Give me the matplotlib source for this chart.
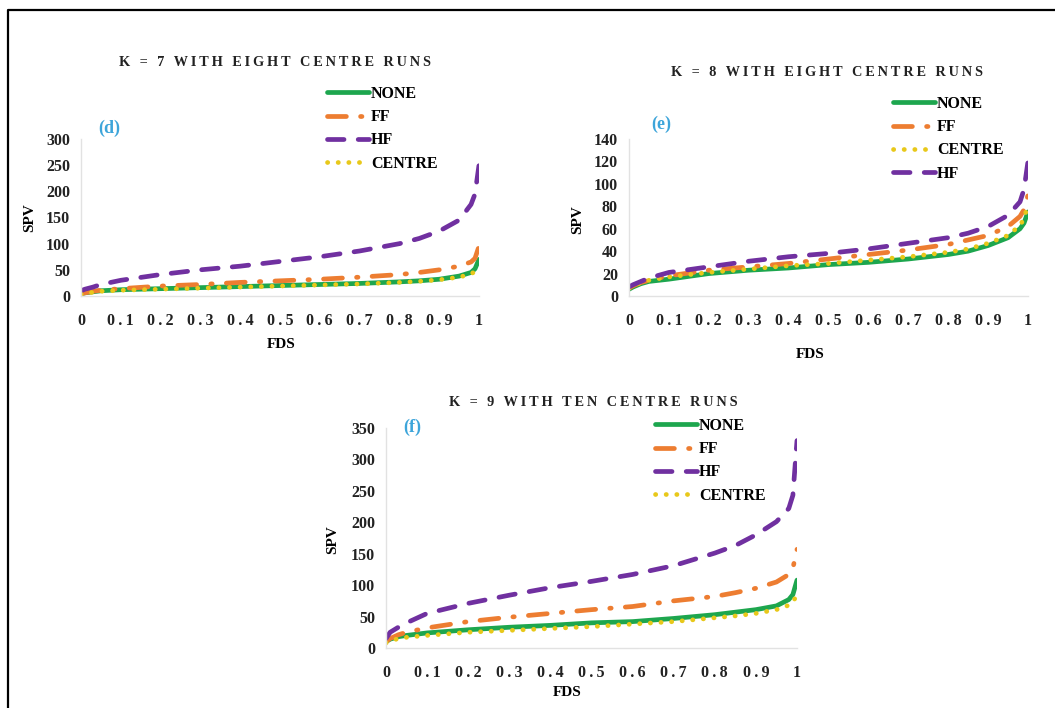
import matplotlib
matplotlib.use("Agg")
import matplotlib.pyplot as plt
from matplotlib.lines import Line2D

W, H = 1055, 708

# shared FDS grid
fds = [0, 0.01, 0.03, 0.05, 0.1, 0.2, 0.3, 0.4, 0.5, 0.6, 0.7, 0.8, 0.85, 0.9, 0.95, 0.98, 0.99, 1.0]

# (d) k = 7
d_none = [4, 6, 8, 10, 12, 14, 16, 18, 20, 22, 24, 27, 29, 32, 38, 45, 52, 70]
d_ff = [4, 6, 9, 11, 14, 19, 22, 26, 29, 32, 36, 41, 45, 50, 57, 65, 72, 95]
d_hf = [10, 13, 17, 22, 30, 41, 50, 57, 66, 75, 86, 100, 110, 124, 145, 175, 195, 250]
d_centre = [3, 5, 7, 9, 11, 13, 15, 17, 19, 21, 23, 26, 28, 31, 36, 42, 47, 55]

# (e) k = 8
e_none = [6, 8, 11, 13, 15, 20, 23, 25, 28, 30, 33, 37, 40, 45, 52, 60, 65, 75]
e_ff = [7, 9, 12, 14, 18, 23, 26, 29, 33, 37, 41, 46, 50, 54, 62, 71, 77, 90]
e_centre = [7, 9, 12, 14, 17, 21, 24, 27, 29, 32, 35, 39, 42, 47, 54, 63, 69, 82]
e_hf = [8, 10, 13, 16, 21, 26, 31, 35, 38, 42, 47, 52, 56, 62, 72, 84, 95, 120]

# (f) k = 9
f_none = [10, 14, 18, 20, 24, 29, 33, 36, 40, 42, 47, 53, 57, 61, 67, 77, 85, 108]
f_ff = [10, 15, 21, 25, 32, 42, 49, 55, 61, 66, 75, 82, 88, 95, 105, 117, 127, 157]
f_hf = [15, 25, 33, 40, 55, 71, 84, 96, 106, 117, 131, 151, 163, 180, 201, 222, 243, 330]
f_centre = [8, 11, 15, 17, 20, 25, 28, 31, 34, 38, 42, 48, 51, 55, 61, 68, 73, 85]

x_ticks = [0, 0.1, 0.2, 0.3, 0.4, 0.5, 0.6, 0.7, 0.8, 0.9, 1]
x_labels = ["0", "0.1", "0.2", "0.3", "0.4", "0.5", "0.6", "0.7", "0.8", "0.9", "1"]

SERIF = ["Liberation Serif", "DejaVu Serif"]
plt.rcParams["font.family"] = SERIF
plt.rcParams["font.weight"] = "bold"

styles = {
    "NONE": dict(color="#1DA64E", ls="-"),
    "FF": dict(color="#ED7D31", dashes=(4, 3, 0.3, 3)),
    "HF": dict(color="#7030A0", dashes=(3.5, 3)),
    "CENTRE": dict(color="#E8C81A", dashes=(0.05, 2.2)),
}

fig = plt.figure(figsize=(W / 100, H / 100), dpi=100)


def px_axes(x0, x1, y0, y1):
    return fig.add_axes([x0 / W, 1 - y1 / H, (x1 - x0) / W, (y1 - y0) / H])


def ftext(x, y, s, **kw):
    fig.text(x / W, 1 - y / H, s, **kw)


def spaced(s):
    return "\u2009".join(s)


def panel(box, ymax, yticks, series, title, tag, title_xy, tag_xy, spv_xy, fds_xy, leg_xy):
    ax = px_axes(*box)
    for name, vals in series:
        st = styles[name]
        kw = dict(color=st["color"], lw=3.4, label=name,
                  solid_capstyle="round", dash_capstyle="round")
        if "dashes" in st:
            kw["dashes"] = st["dashes"]
        ax.plot(fds, vals, **kw)
    ax.set_xlim(0, 1)
    ax.set_ylim(0, ymax)
    ax.set_xticks(x_ticks)
    ax.set_xticklabels([spaced(t) for t in x_labels])
    ax.set_yticks(yticks)
    ax.tick_params(length=0, labelsize=11.5, colors="#222222")
    ax.tick_params(axis="x", pad=12)
    ax.tick_params(axis="y", pad=8)
    for sp in ["top", "right"]:
        ax.spines[sp].set_visible(False)
    for sp in ["left", "bottom"]:
        ax.spines[sp].set_color("#E2E2E2")
        ax.spines[sp].set_linewidth(1.0)
    for lab in ax.get_xticklabels() + ax.get_yticklabels():
        lab.set_fontweight("bold")
    ax.legend(loc="upper left", bbox_to_anchor=(leg_xy[0] / W, 1 - leg_xy[1] / H),
              bbox_transform=fig.transFigure, frameon=False, handlelength=2.6,
              handletextpad=0.15, labelspacing=0.45, borderaxespad=0, borderpad=0,
              prop=dict(family=SERIF, weight="bold", size=11.5))
    ftext(*title_xy, spaced(title), ha="center", va="center", fontsize=10.3,
          fontweight="bold", color="#222222")
    ftext(*tag_xy, tag, ha="center", va="center", fontsize=13, fontweight="bold",
          color="#3DA5DA")
    ftext(*spv_xy, "SPV", ha="center", va="center", rotation=90, fontsize=11,
          fontweight="bold")
    ftext(*fds_xy, "FDS", ha="center", va="center", fontsize=11, fontweight="bold")
    return ax


panel((81, 479, 139, 296), 300, [0, 50, 100, 150, 200, 250, 300],
      [("NONE", d_none), ("FF", d_ff), ("HF", d_hf), ("CENTRE", d_centre)],
      "K = 7 WITH EIGHT CENTRE RUNS", "(d)", (275, 62), (109, 128), (30, 218),
      (281, 345), (327, 86))

panel((629, 1028, 139, 296), 140, [0, 20, 40, 60, 80, 100, 120, 140],
      [("NONE", e_none), ("FF", e_ff), ("CENTRE", e_centre), ("HF", e_hf)],
      "K = 8 WITH EIGHT CENTRE RUNS", "(e)", (827, 73), (661, 124), (578, 220),
      (810, 354), (893, 96))

panel((386, 797, 428, 648), 350, [0, 50, 100, 150, 200, 250, 300, 350],
      [("NONE", f_none), ("FF", f_ff), ("HF", f_hf), ("CENTRE", f_centre)],
      "K = 9 WITH TEN CENTRE RUNS", "(f)", (593, 402), (412, 427), (333, 540),
      (567, 692), (655, 418))

# frame of the figure box
fig.add_artist(Line2D([8 / W, 8 / W, 1], [0, 1 - 10 / H, 1 - 10 / H],
                      transform=fig.transFigure, color="black", lw=1.6))

fig.savefig("out.png", dpi=100, facecolor="white")
